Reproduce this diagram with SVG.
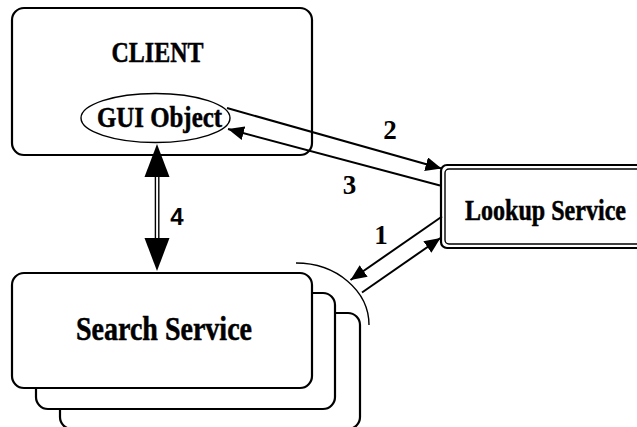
<svg xmlns="http://www.w3.org/2000/svg" width="637" height="427" viewBox="0 0 637 427">
  <style>
    .box { fill: #fff; stroke: #000; stroke-width: 2.2; }
    .thin { fill: none; stroke: #000; stroke-width: 1.4; }
    .line { fill: none; stroke: #000; stroke-width: 2; }
    .head { fill: #000; stroke: none; }
    .lbl { font-family: "Liberation Serif", "Times New Roman", serif; font-weight: bold; fill: #000; stroke: #000; stroke-width: 0.5; }
    .num { font-family: "Liberation Serif", "Times New Roman", serif; font-weight: bold; font-size: 27px; fill: #000; text-anchor: middle; }
  </style>
  <defs>
    <marker id="tip" markerUnits="userSpaceOnUse" markerWidth="17" markerHeight="15" refX="16" refY="7" orient="auto">
      <path d="M0,0 L16,7 L0,14 Z" class="head"/>
    </marker>
  </defs>

  <rect width="637" height="427" fill="#fff"/>

  <!-- client node with its GUI object -->
  <g id="client">
    <rect class="box" x="12" y="8" width="300" height="147" rx="12"/>
    <text class="lbl" x="157.5" y="62" font-size="30" text-anchor="middle" textLength="92" lengthAdjust="spacingAndGlyphs">CLIENT</text>
  </g>
  <g id="gui-object">
    <ellipse class="thin" cx="155.5" cy="118" rx="74.5" ry="24.5" fill="#fff"/>
    <text class="lbl" x="159.5" y="127" font-size="29" text-anchor="middle" textLength="125" lengthAdjust="spacingAndGlyphs">GUI Object</text>
  </g>

  <!-- lookup service, double border -->
  <g id="lookup-service">
    <rect class="box" x="441" y="165" width="220" height="83" rx="6"/>
    <rect class="thin" x="445" y="169" width="212" height="75" rx="4"/>
    <text class="lbl" x="465" y="220" font-size="29" textLength="161" lengthAdjust="spacingAndGlyphs">Lookup Service</text>
  </g>

  <!-- search service, a stack of three instances -->
  <g id="search-service">
    <rect class="box" x="60" y="313" width="300" height="116" rx="12"/>
    <rect class="box" x="36" y="293" width="299" height="116" rx="12"/>
    <rect class="box" x="12" y="273" width="300" height="115" rx="12"/>
    <text class="lbl" x="76" y="340" font-size="33" textLength="176" lengthAdjust="spacingAndGlyphs">Search Service</text>
    <path class="thin" d="M296,263 A73,62 0 0 1 369,325"/>
  </g>

  <!-- connectors -->
  <g id="connectors">
    <!-- 2: GUI object to lookup -->
    <line class="line" x1="227" y1="108" x2="441.5" y2="168.5" marker-end="url(#tip)"/>
    <!-- 3: lookup back to GUI object -->
    <line class="line" x1="440" y1="185.5" x2="228" y2="129" marker-end="url(#tip)"/>
    <!-- 1: lookup and search service -->
    <line class="line" x1="442" y1="216.5" x2="350.5" y2="280" marker-end="url(#tip)"/>
    <line class="line" x1="362" y1="292.5" x2="440.5" y2="238" marker-end="url(#tip)"/>
    <!-- 4: GUI object and search service, double shaft -->
    <line class="thin" x1="155.4" y1="176" x2="155.4" y2="239"/>
    <line class="thin" x1="158.8" y1="176" x2="158.8" y2="239"/>
    <path class="head" d="M157,144 L169.5,177 L144.5,177 Z"/>
    <path class="head" d="M157,271 L169.5,238 L144.5,238 Z"/>
  </g>

  <!-- connector labels -->
  <g id="labels">
    <text class="num" x="390" y="139">2</text>
    <text class="num" x="349.5" y="194">3</text>
    <text class="num" x="381" y="244">1</text>
    <text x="177" y="225" font-family="Liberation Sans, Arial, sans-serif" font-weight="bold" font-size="24" text-anchor="middle">4</text>
  </g>
</svg>
